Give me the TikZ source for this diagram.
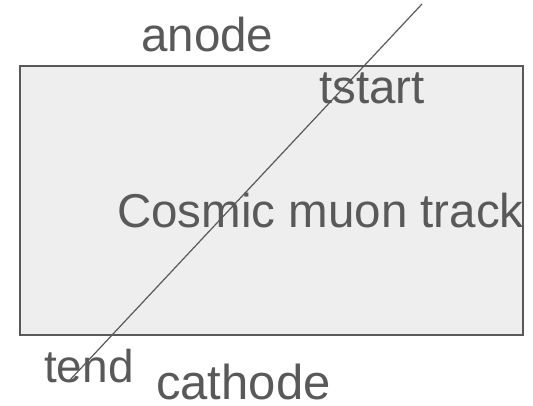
\documentclass[tikz,border=0pt]{standalone}
\usepackage{fontspec}
\setmainfont{Liberation Sans}
\definecolor{txtgray}{HTML}{595959}
\definecolor{boxfill}{HTML}{EEEEEE}
\begin{document}
\begin{tikzpicture}[x=1bp,y=-1bp,
  lbl/.style={anchor=base west, inner sep=0pt, text=txtgray, font=\fontsize{47.5bp}{50bp}\selectfont},
  boxstyle/.style={draw=txtgray, fill=boxfill, line width=1.6bp, minimum width=503bp, minimum height=269bp, inner sep=0pt},
  track/.style={draw=txtgray, line width=1.2bp}]
\useasboundingbox (0,0) rectangle (533,405);
\node[boxstyle] (box) at (271.5,200.5) {};
\node[lbl] (anode) at (141,51) {anode};
\node[lbl] (tstart) at (319,103) {tstart};
\node[lbl] (cmt) at (117,227) {Cosmic muon track};
\node[lbl, font=\fontsize{46bp}{50bp}\selectfont] (tend) at (44,382) {tend};
\node[lbl, font=\fontsize{49bp}{50bp}\selectfont, text depth=0pt] (cathode) at (156,399) {cathode};
\coordinate (top) at (422,4);
\coordinate (bot) at (69,381);
\draw[track] (top) -- (bot);
\end{tikzpicture}
\end{document}
